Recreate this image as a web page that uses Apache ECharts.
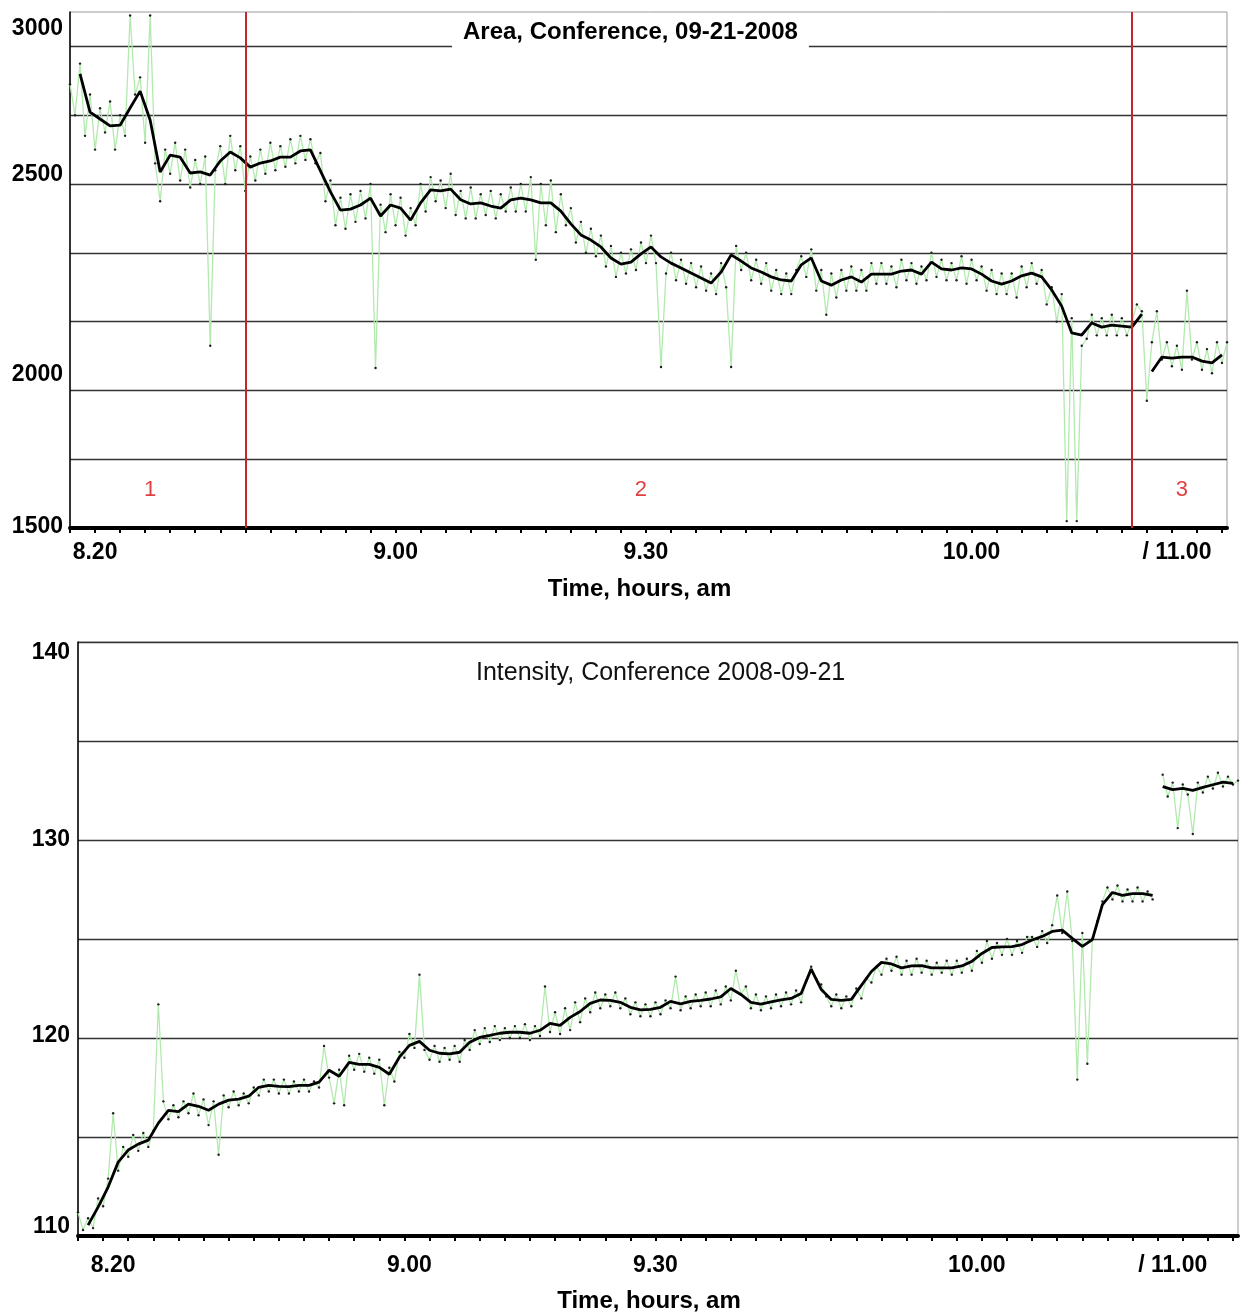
<!DOCTYPE html>
<html>
<head>
<meta charset="utf-8">
<script src="https://cdn.jsdelivr.net/npm/echarts@6/dist/echarts.min.js"></script>
<style>
html,body{margin:0;padding:0;background:#fff;}
#chart{width:1243px;height:1314px;}
</style>
</head>
<body>
<div id="chart"></div>
<script>
// ---------------- data ----------------
const N = 232; // samples along the time axis (both panels)
const xTickLabels = ['8.20', '9.00', '9.30', '10.00', '/ 11.00'];
const areaTickIdx = [5, 65, 115, 180, 221];
const intensityTickIdx = [7, 66, 115, 179, 218];

const areaYLabels = [1500, 2000, 2500, 3000];
const intensityYLabels = [110, 120, 130, 140];

const phaseNames = ['1', '2', '3'];
const phaseBoundaryIdx = [35, 212];
const phaseLabelIdx = [16, 114, 222];
const phaseLabelLevel = 1610;

// smoothed (black) curves, one value every 2nd sample; the series splits at the time break
const areaBreak = 108;
const areaSmooth = [
  null, 2820, 2709, 2689, 2669, 2671, 2721, 2770, 2686, 2535,
  2584, 2578, 2532, 2535, 2526, 2567, 2593, 2576, 2549, 2561,
  2567, 2578, 2578, 2596, 2599, 2538, 2477, 2424, 2427, 2439,
  2459, 2407, 2439, 2430, 2395, 2445, 2483, 2480, 2485, 2454,
  2442, 2445, 2436, 2430, 2454, 2459, 2454, 2445, 2445, 2421,
  2384, 2352, 2337, 2317, 2285, 2267, 2273, 2297, 2317, 2288,
  2270, 2256, 2241, 2227, 2212, 2244, 2294, 2276, 2256, 2244,
  2230, 2221, 2218, 2265, 2285, 2218, 2206, 2221, 2230, 2215,
  2238, 2238, 2238, 2247, 2250, 2238, 2273, 2253, 2250, 2256,
  2253, 2238, 2218, 2209, 2218, 2233, 2241, 2230, 2192, 2145,
  2067, 2061, 2096, 2084, 2090, 2087, 2084, 2122, 1955, 1997,
  1994, 1997, 1997, 1985, 1980, 2003
];
// raw measurements (green line with dots), one value per sample
const areaRaw = [
  2790, 2700, 2850, 2640, 2760, 2600, 2720, 2650, 2740, 2600,
  2700, 2640, 2990, 2760, 2810, 2620, 2990, 2560, 2450, 2600,
  2530, 2620, 2510, 2600, 2490, 2570, 2500, 2580, 2030, 2540,
  2610, 2500, 2640, 2540, 2610, 2480, 2580, 2510, 2600, 2530,
  2620, 2540, 2610, 2550, 2630, 2560, 2640, 2570, 2630, 2560,
  2590, 2450, 2510, 2380, 2460, 2370, 2470, 2390, 2480, 2400,
  2500, 1965, 2440, 2360, 2470, 2380, 2460, 2350, 2430, 2380,
  2500, 2420, 2520, 2450, 2510, 2430, 2530, 2410, 2480, 2400,
  2490, 2400, 2470, 2410, 2480, 2400, 2470, 2420, 2490, 2420,
  2500, 2420, 2520, 2280, 2500, 2380, 2510, 2360, 2470, 2380,
  2430, 2330, 2390, 2300, 2370, 2290, 2350, 2260, 2320, 2230,
  2300, 2240, 2310, 2250, 2330, 2270, 2350, 2270, 1968, 2240,
  2300, 2220, 2280, 2210, 2270, 2200, 2260, 2190, 2240, 2180,
  2270, 2200, 1968, 2320, 2250, 2300, 2220, 2280, 2210, 2270,
  2190, 2250, 2180, 2240, 2180, 2250, 2290, 2230, 2310, 2190,
  2250, 2120, 2240, 2170, 2250, 2190, 2260, 2190, 2250, 2190,
  2270, 2210, 2270, 2210, 2260, 2200, 2280, 2220, 2270, 2210,
  2260, 2220, 2300, 2230, 2280, 2220, 2270, 2220, 2290, 2210,
  2280, 2220, 2260, 2190, 2250, 2180, 2240, 2180, 2240, 2170,
  2260, 2200, 2270, 2210, 2250, 2150, 2200, 2100, 2180, 1520,
  2110, 1520, 2030, 2050, 2120, 2060, 2110, 2060, 2120, 2060,
  2110, 2060, 2100, 2150, 2130, 1870, 2040, 2130, 1990, 2040,
  1970, 2030, 1960, 2190, 1990, 2040, 1960, 2020, 1950, 2040,
  1980, 2040
];

const intensityBreak = 108;
const intensitySmooth = [
  null, 110.55, 111.46, 112.47, 113.73, 114.34, 114.64, 114.84, 115.70, 116.35,
  116.28, 116.66, 116.55, 116.35, 116.66, 116.86, 116.91, 117.06, 117.51, 117.61,
  117.56, 117.54, 117.61, 117.61, 117.77, 118.37, 118.07, 118.77, 118.67, 118.67,
  118.52, 118.17, 119.03, 119.63, 119.83, 119.38, 119.23, 119.20, 119.28, 119.78,
  120.03, 120.13, 120.24, 120.29, 120.29, 120.24, 120.39, 120.74, 120.64, 121.04,
  121.34, 121.75, 121.92, 121.90, 121.80, 121.55, 121.42, 121.45, 121.55, 121.85,
  121.72, 121.85, 121.90, 121.97, 122.08, 122.50, 122.20, 121.80, 121.71, 121.82,
  121.92, 122.00, 122.25, 123.48, 122.45, 121.95, 121.90, 121.95, 122.66, 123.36,
  123.82, 123.74, 123.54, 123.64, 123.66, 123.54, 123.54, 123.54, 123.64, 123.87,
  124.27, 124.57, 124.60, 124.62, 124.72, 124.95, 125.13, 125.38, 125.45, 125.03,
  124.63, 124.97, 126.74, 127.35, 127.20, 127.29, 127.29, 127.20, 132.70, 132.54,
  132.61, 132.51, 132.66, 132.79, 132.92, 132.86
];
const intensityRaw = [
  111.2, 110.3, 110.9, 110.4, 111.9, 111.5, 112.9, 116.2, 113.3, 114.5,
  114.0, 115.1, 114.3, 115.2, 114.5, 115.3, 121.7, 116.8, 115.9, 116.6,
  116.0, 116.8, 116.2, 117.2, 116.1, 116.9, 115.6, 116.8, 114.1, 117.1,
  116.5, 117.3, 116.6, 117.2, 116.7, 117.5, 117.1, 117.9, 117.3, 117.9,
  117.2, 117.9, 117.2, 117.8, 117.3, 117.9, 117.3, 117.8, 117.5, 119.6,
  118.0, 116.7, 118.4, 116.6, 119.1, 118.4, 119.2, 118.3, 119.0, 118.2,
  118.9, 116.6, 118.5, 117.8, 119.3, 119.0, 120.2, 119.5, 123.2, 119.4,
  118.9, 119.6, 118.8, 119.5, 118.9, 119.6, 118.8, 119.9, 119.4, 120.4,
  119.7, 120.5, 119.8, 120.6, 119.9, 120.5, 120.0, 120.6, 120.0, 120.7,
  119.9, 120.6, 120.1, 122.6, 120.3, 121.3, 120.2, 121.5, 120.4, 121.8,
  120.8, 122.0, 121.3, 122.3, 121.5, 122.2, 121.6, 122.3, 121.5, 122.0,
  121.2, 121.8, 121.1, 121.7, 121.1, 121.8, 121.2, 121.9, 121.5, 123.1,
  121.4, 122.1, 121.5, 122.2, 121.6, 122.3, 121.6, 122.4, 121.7, 122.6,
  121.9, 123.4, 122.2, 122.6, 121.5, 122.2, 121.4, 122.1, 121.5, 122.2,
  121.6, 122.3, 121.7, 122.4, 121.8, 122.9, 123.6, 123.0, 122.7, 122.1,
  121.6, 122.2, 121.5, 122.1, 121.6, 122.5, 122.0, 123.0, 122.8, 123.6,
  123.2, 124.0, 123.4, 124.1, 123.2, 123.9, 123.2, 124.0, 123.3, 123.9,
  123.2, 123.8, 123.3, 123.9, 123.2, 123.9, 123.3, 124.0, 123.4, 124.4,
  123.8, 124.9, 124.0, 124.8, 124.2, 125.0, 124.2, 124.9, 124.3, 125.1,
  125.1, 124.6, 125.4, 124.8, 125.7, 127.2, 125.3, 127.4, 124.9, 117.9,
  125.3, 118.7, 125.0, 125.9, 126.9, 127.6, 127.0, 127.7, 126.9, 127.5,
  126.9, 127.6, 126.9, 127.4, 127.0, null, 133.3, 132.2, 132.9, 130.6,
  132.8, 132.3, 130.3, 132.9, 132.4, 133.2, 132.6, 133.4, 132.7, 133.2,
  132.8, 133.0
];

// ---------------- helpers ----------------
const FONT = '"Liberation Sans", Arial, Helvetica, sans-serif';
const cats = Array.from({ length: N }, (_, i) => String(i));

function labelMap(idx) {
  const m = {};
  idx.forEach((p, j) => { m[p] = xTickLabels[j]; });
  return m;
}
const areaMap = labelMap(areaTickIdx);
const intensityMap = labelMap(intensityTickIdx);

function splitSmooth(vals, brk) {
  const a = [], b = [];
  vals.forEach((v, k) => {
    if (v == null) return;
    (k < brk ? a : b).push([2 * k, v]);
  });
  return [a, b];
}
const [areaA, areaB] = splitSmooth(areaSmooth, areaBreak);
const [intA, intB] = splitSmooth(intensitySmooth, intensityBreak);

const boldText = { fontFamily: FONT, fontWeight: 'bold', fontSize: 23, color: '#000' };

// vertical nudges of the y labels as they sit in the original figure
const areaYRich = {
  p0: Object.assign({}, boldText, { padding: [0, 0, 2, 0] }),
  p1: Object.assign({}, boldText, { padding: [38, 0, 0, 0] }),
  p2: Object.assign({}, boldText, { padding: [0, 0, 18, 0] }),
  p3: Object.assign({}, boldText, { padding: [34, 0, 0, 0] })
};
const intYRich = {
  p0: Object.assign({}, boldText, { padding: [0, 0, 18, 0] }),
  p1: Object.assign({}, boldText, { padding: [0, 0, 4, 0] }),
  p2: Object.assign({}, boldText, { padding: [0, 0, 0, 0] }),
  p3: Object.assign({}, boldText, { padding: [22, 0, 0, 0] })
};

function xAxisCfg(grid, map, margin, nameGap) {
  return {
    type: 'category', gridIndex: grid, data: cats, boundaryGap: false,
    axisLine: { show: true, lineStyle: { color: '#000', width: 4 } },
    axisTick: { show: true, interval: 4, length: 5, lineStyle: { color: '#000', width: 2 } },
    axisLabel: Object.assign({}, boldText, {
      interval: (i) => map[i] !== undefined,
      formatter: (v, i) => map[i] || '',
      margin: margin
    }),
    splitLine: { show: false },
    name: 'Time, hours, am', nameLocation: 'middle', nameGap: nameGap,
    nameTextStyle: Object.assign({}, boldText, { fontSize: 24, padding: [0, 18, 0, 0] })
  };
}

const chart = echarts.init(document.getElementById('chart'), null, { renderer: 'canvas' });

const rawLine = { color: '#b2eaae', width: 1.3 };
const rawDot = { color: '#1e1e1e' };

const option = {
  animation: false,
  backgroundColor: '#fff',
  grid: [
    { left: 70, right: 16, top: 12, bottom: 786, show: true, borderColor: '#9a9a9a', borderWidth: 1, backgroundColor: '#fff' },
    { left: 78, right: 5, top: 642, bottom: 77, show: true, borderColor: '#9a9a9a', borderWidth: 1, backgroundColor: '#fff' }
  ],
  title: [
    {
      text: 'Area, Conference, 09-21-2008', left: 452, top: 16,
      backgroundColor: '#fff', padding: [4, 11, 6, 11],
      textStyle: { fontFamily: FONT, fontWeight: 'bold', fontSize: 24, color: '#000' }
    },
    {
      text: 'Intensity, Conference 2008-09-21', left: 476, top: 661, padding: 0,
      textStyle: { fontFamily: FONT, fontWeight: 'normal', fontSize: 25, color: '#111' }
    }
  ],
  xAxis: [
    xAxisCfg(0, areaMap, 13, 49),
    xAxisCfg(1, intensityMap, 18, 53)
  ],
  yAxis: [
    {
      type: 'value', gridIndex: 0, min: 1500, max: 3000, interval: 100,
      axisLine: { show: true, lineStyle: { color: '#000', width: 1.5 } },
      axisTick: { show: false },
      splitLine: { show: true, lineStyle: { color: ['#333', 'rgba(0,0,0,0)'], width: 1.3 } },
      axisLabel: {
        margin: 7,
        formatter: (v) => {
          const j = areaYLabels.indexOf(v);
          return j < 0 ? '' : '{p' + j + '|' + v + '}';
        },
        rich: areaYRich
      }
    },
    {
      type: 'value', gridIndex: 1, min: 110, max: 140, interval: 5,
      axisLine: { show: true, lineStyle: { color: '#000', width: 1.5 } },
      axisTick: { show: false },
      splitLine: { show: true, lineStyle: { color: '#333', width: 1.3 } },
      axisLabel: {
        margin: 8,
        formatter: (v) => {
          const j = intensityYLabels.indexOf(v);
          return j < 0 ? '' : '{p' + j + '|' + v + '}';
        },
        rich: intYRich
      }
    }
  ],
  series: [
    {
      name: 'Area raw', type: 'line', xAxisIndex: 0, yAxisIndex: 0, data: areaRaw,
      showSymbol: true, showAllSymbol: true, symbol: 'circle', symbolSize: 2.4,
      itemStyle: rawDot, lineStyle: rawLine, z: 2, silent: true
    },
    {
      name: 'Area', type: 'line', xAxisIndex: 0, yAxisIndex: 0, data: areaA,
      showSymbol: false, lineStyle: { color: '#000', width: 2.8 }, z: 3, silent: true
    },
    {
      name: 'Area 2', type: 'line', xAxisIndex: 0, yAxisIndex: 0, data: areaB,
      showSymbol: false, lineStyle: { color: '#000', width: 2.8 }, z: 3, silent: true
    },
    {
      name: 'Phases', type: 'scatter', xAxisIndex: 0, yAxisIndex: 0, symbolSize: 0, z: 5,
      data: phaseNames.map((n, j) => ({ name: n, value: [phaseLabelIdx[j], phaseLabelLevel] })),
      label: {
        show: true, position: 'inside', formatter: '{b}',
        fontFamily: FONT, fontSize: 22, color: '#d80f0f'
      },
      markLine: {
        silent: true, symbol: 'none', label: { show: false },
        lineStyle: { color: '#c0282d', width: 2, type: 'solid' },
        data: phaseBoundaryIdx.map((p) => ({ xAxis: p }))
      }
    },
    {
      name: 'Intensity raw', type: 'line', xAxisIndex: 1, yAxisIndex: 1, data: intensityRaw,
      showSymbol: true, showAllSymbol: true, symbol: 'circle', symbolSize: 2.4,
      itemStyle: rawDot, lineStyle: rawLine, z: 2, silent: true
    },
    {
      name: 'Intensity', type: 'line', xAxisIndex: 1, yAxisIndex: 1, data: intA,
      showSymbol: false, lineStyle: { color: '#000', width: 2.8 }, z: 3, silent: true
    },
    {
      name: 'Intensity 2', type: 'line', xAxisIndex: 1, yAxisIndex: 1, data: intB,
      showSymbol: false, lineStyle: { color: '#000', width: 2.8 }, z: 3, silent: true
    }
  ]
};
chart.setOption(option);
</script>
</body>
</html>
